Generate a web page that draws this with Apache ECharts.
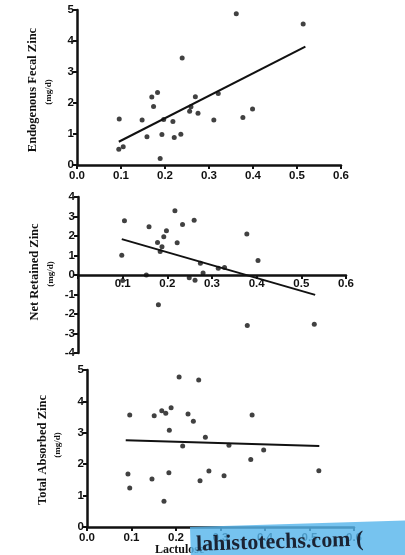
<!DOCTYPE html>
<html><head><meta charset="utf-8">
<script src="https://cdn.jsdelivr.net/npm/echarts@6/dist/echarts.min.js"></script>
<style>html,body{margin:0;padding:0;background:#fff}#c{width:405px;height:555px}</style>
</head><body><div id="c"></div>
<script>
// Panel 1: Endogenous Fecal Zinc (mg/d) vs lactulose ratio
const fecalX = [0.096,0.095,0.105,0.148,0.159,0.170,0.183,0.174,0.189,0.193,0.197,0.218,0.221,0.236,0.239,0.256,0.259,0.269,0.275,0.311,0.321,0.362,0.377,0.399,0.514];
const fecalY = [1.48,0.51,0.59,1.45,0.91,2.19,2.34,1.89,0.21,0.98,1.47,1.40,0.89,0.99,3.45,1.73,1.88,2.20,1.67,1.45,2.31,4.88,1.53,1.81,4.55];
const fecalFitX = [0.095,0.519];
const fecalFitY = [0.75,3.82];
// Panel 2: Net Retained Zinc (mg/d)
const netX = [0.104,0.098,0.100,0.159,0.153,0.178,0.180,0.188,0.192,0.198,0.184,0.217,0.222,0.234,0.249,0.260,0.262,0.274,0.280,0.314,0.328,0.378,0.379,0.403,0.529];
const netY = [2.78,1.01,-0.28,2.47,0.00,1.67,-1.52,1.45,1.96,2.27,1.21,3.29,1.65,2.59,-0.14,2.81,-0.27,0.60,0.10,0.34,0.39,2.10,-2.59,0.75,-2.52];
const netFitX = [0.098,0.531];
const netFitY = [1.84,-1.02];
// Panel 3: Total Absorbed Zinc (mg/d)
const absX = [0.096,0.092,0.096,0.146,0.151,0.168,0.177,0.189,0.173,0.185,0.184,0.207,0.215,0.227,0.239,0.251,0.254,0.266,0.274,0.308,0.319,0.368,0.371,0.397,0.521];
const absY = [3.57,1.69,1.24,1.53,3.54,3.70,3.62,3.80,0.82,3.08,1.73,4.78,2.58,3.60,3.37,4.68,1.47,2.86,1.78,1.63,2.60,2.15,3.57,2.45,1.79];
const absFitX = [0.087,0.522];
const absFitY = [2.76,2.58];

const yTitles = ['Endogenous Fecal Zinc','Net Retained Zinc','Total Absorbed Zinc'];
const yUnit = '(mg/d)';
const xTitle = 'Lactulose';
const watermark = 'lahistotechs.com (';

const zip = (a,b)=>a.map((v,i)=>[v,b[i]]);
const axisLineStyle = {color:'#111', width:2.5};
const labelFont = {color:'#111', fontFamily:'Liberation Sans, Arial, sans-serif', fontWeight:'bold', fontSize:11.5};

function xAx(gi, hideZero, offset){
  return {type:'value', gridIndex:gi, min:0, max:0.6, interval:0.1, position:'bottom', offset:offset||0,
    axisLine:{show:true, onZero:false, lineStyle:axisLineStyle},
    axisTick:{show:true, length:4, lineStyle:{color:'#111', width:2}},
    splitLine:{show:false},
    axisLabel:Object.assign({margin: hideZero?3:5, formatter:v=> (hideZero && Math.abs(v)<1e-9)?'':v.toFixed(1)}, labelFont)};
}
function yAx(gi, min, max){
  return {type:'value', gridIndex:gi, min:min, max:max, interval:1,
    axisLine:{show:true, onZero:false, lineStyle:axisLineStyle},
    axisTick:{show:true, length:4, lineStyle:{color:'#111', width:2}},
    splitLine:{show:false},
    axisLabel:Object.assign({margin:3}, labelFont)};
}
function scat(i, xs, ys){
  return {type:'scatter', xAxisIndex:i, yAxisIndex:i, data:zip(xs,ys), symbolSize:5,
    itemStyle:{color:'#111'}, z:3};
}
function fit(i, xs, ys){
  return {type:'line', xAxisIndex:i, yAxisIndex:i, data:zip(xs,ys), symbol:'none',
    lineStyle:{color:'#111', width:2}, z:2};
}
function ytitle(x, y, t, ux, uy){
  return [
    {type:'text', x:x, y:y, rotation:Math.PI/2, style:{text:t, fontFamily:'Liberation Serif, Times New Roman, serif', fontWeight:'bold', fontSize:12.5, fill:'#111', align:'center', verticalAlign:'middle'}},
    {type:'text', x:ux, y:uy, rotation:Math.PI/2, style:{text:yUnit, fontFamily:'Liberation Serif, Times New Roman, serif', fontWeight:'bold', fontSize:9, fill:'#111', align:'center', verticalAlign:'middle'}}
  ];
}

const chart = echarts.init(document.getElementById('c'), null, {renderer:'canvas'});
chart.setOption({
  animation:false,
  backgroundColor:'#fff',
  grid:[
    {left:77, top:10, width:264, height:155},
    {left:78, top:197, width:268, height:156},
    {left:87, top:370, width:267, height:157}
  ],
  xAxis:[xAx(0,false), xAx(1,true,-78), xAx(2,false)],
  yAxis:[yAx(0,0,5), yAx(1,-4,4), yAx(2,0,5)],
  series:[scat(0,fecalX,fecalY), fit(0,fecalFitX,fecalFitY),
          scat(1,netX,netY), fit(1,netFitX,netFitY),
          scat(2,absX,absY), fit(2,absFitX,absFitY)],
  graphic:[].concat(
    ytitle(33, 90, yTitles[0], 49, 92),
    ytitle(35, 272, yTitles[1], 51, 274),
    ytitle(43, 450, yTitles[2], 58, 445),
    [
      {type:'text', x:155, y:550, style:{text:xTitle, fontFamily:'Liberation Serif, Times New Roman, serif', fontWeight:'bold', fontSize:12, fill:'#111', align:'left', verticalAlign:'middle'}, z:10},
      {type:'rect', shape:{x:190, y:527, width:230, height:40}, rotation:0.03, originX:190, originY:527, style:{fill:'rgba(88,182,236,0.82)'}, z:20},
      {type:'text', x:196, y:545, rotation:0.03, style:{text:watermark, fontFamily:'Liberation Serif, Times New Roman, serif', fontWeight:'bold', fontSize:22, fill:'#1b2333', align:'left', verticalAlign:'middle'}, z:21}
    ]
  )
});
</script>
</body></html>
